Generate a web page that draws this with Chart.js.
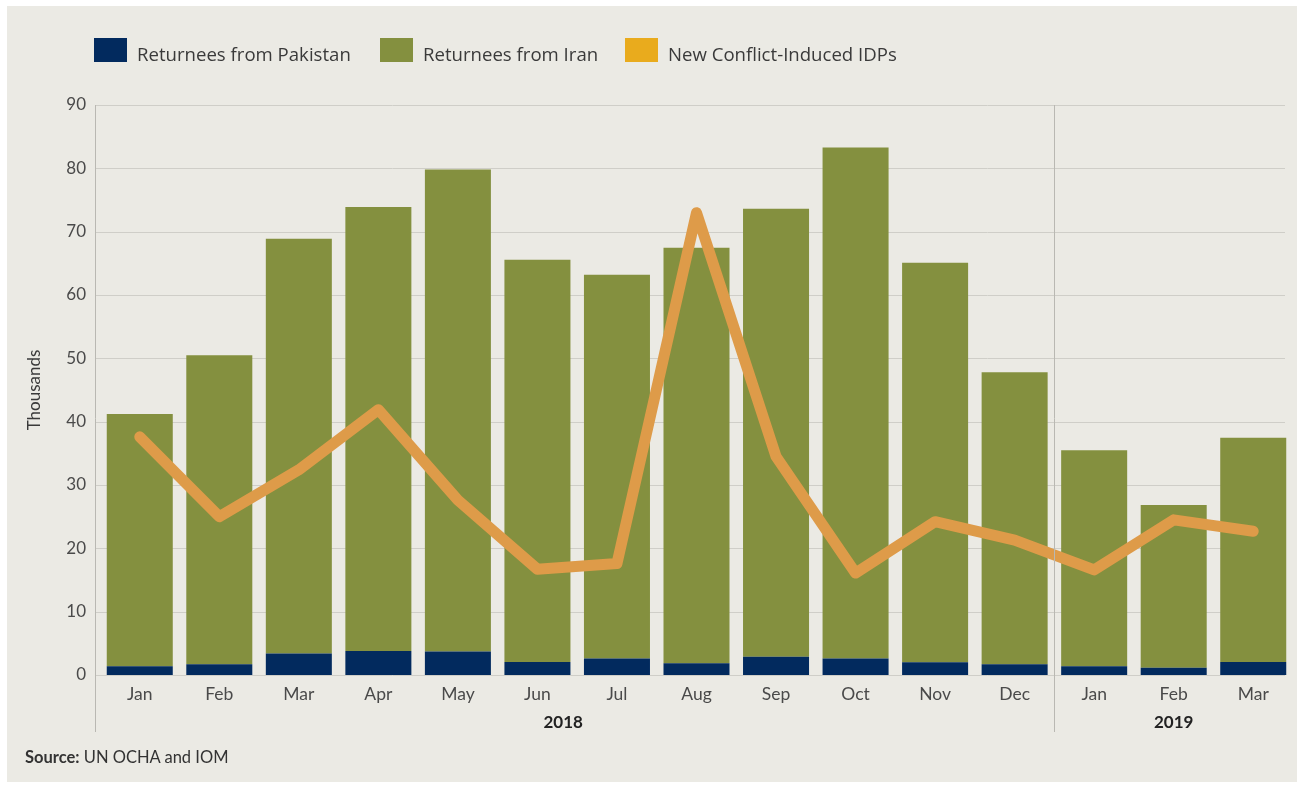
<!DOCTYPE html>
<html>
<head>
<meta charset="utf-8">
<script src="https://cdn.jsdelivr.net/npm/chart.js@4.4.1/dist/chart.umd.min.js"></script>
<style>
  html, body { margin: 0; padding: 0; background: #ffffff; }
  #frame { position: absolute; left: 7px; top: 6px; width: 1290px; height: 776px; background: #ebeae4; }
  #wrap { position: absolute; left: 0; top: 0; width: 1304px; height: 788px; }
  .leg { position: absolute; top: 38px; height: 24px; display: flex; align-items: flex-end; font-family: "Open Sans", sans-serif; font-size: 18.6px; color: #3a3a3a; white-space: nowrap; }
  .leg span.box { display: inline-block; width: 33px; height: 24px; margin-right: 10px; }
  .leg span.txt { line-height: 18px; position: relative; top: 1px; }
  #source { position: absolute; left: 25px; top: 747px; font-family: Lato, sans-serif; font-size: 16.5px; color: #333; }
</style>
</head>
<body>
<div id="frame"></div>
<div id="wrap"><canvas id="chart" width="1304" height="788"></canvas></div>
<div class="leg" style="left:94px"><span class="box" style="background:#022a5e"></span><span class="txt">Returnees from Pakistan</span></div>
<div class="leg" style="left:380px"><span class="box" style="background:#84903f"></span><span class="txt">Returnees from Iran</span></div>
<div class="leg" style="left:625px"><span class="box" style="background:#e9ab1d"></span><span class="txt">New Conflict-Induced IDPs</span></div>
<div id="source"><b>Source:</b> UN OCHA and IOM</div>
<script>
// Afghanistan returnees and IDPs, thousands per month
const months = ['Jan', 'Feb', 'Mar', 'Apr', 'May', 'Jun', 'Jul', 'Aug', 'Sep', 'Oct', 'Nov', 'Dec', 'Jan', 'Feb', 'Mar'];
const years = [
    { label: '2018', from: 0, to: 11 },
    { label: '2019', from: 12, to: 14 }
];
const fromPakistan = [1.4, 1.7, 3.4, 3.8, 3.7, 2.05, 2.6, 1.85, 2.9, 2.6, 2.0, 1.7, 1.4, 1.15, 2.05];
const fromIran = [39.8, 48.8, 65.5, 70.1, 76.1, 63.5, 60.6, 65.6, 70.7, 80.7, 63.1, 46.1, 34.1, 25.7, 35.4];
const newIdps = [37.6, 25.0, 32.4, 41.9, 27.6, 16.7, 17.6, 73.0, 34.5, 16.1, 24.2, 21.3, 16.6, 24.5, 22.7];
const yTicks = [0, 10, 20, 30, 40, 50, 60, 70, 80, 90];

const FONT = 'Lato, sans-serif';

// gridlines, axis line, year separator and year labels
const decorPlugin = {
    id: 'decor',
    beforeDatasetsDraw(chart) {
        const { ctx, chartArea, scales } = chart;
        const left = chartArea.left - 5;
        ctx.save();
        ctx.strokeStyle = '#cfcec8';
        ctx.lineWidth = 1;
        yTicks.forEach(v => {
            const y = Math.round(scales.y.getPixelForValue(v)) + 0.5;
            ctx.beginPath();
            ctx.moveTo(left, y);
            ctx.lineTo(chartArea.right - 8, y);
            ctx.stroke();
        });
        ctx.restore();
    },
    afterDraw(chart) {
        const { ctx, chartArea, scales } = chart;
        const x = scales.x;
        const bottom = chartArea.bottom + 57;
        ctx.save();
        ctx.strokeStyle = '#b9b8b2';
        ctx.lineWidth = 1;
        const lines = [chartArea.left - 5, (x.getPixelForValue(11) + x.getPixelForValue(12)) / 2];
        lines.forEach(px => {
            px = Math.round(px) + 0.5;
            ctx.beginPath();
            ctx.moveTo(px, chartArea.top);
            ctx.lineTo(px, bottom);
            ctx.stroke();
        });
        ctx.fillStyle = '#222';
        ctx.font = 'bold 17px ' + FONT;
        ctx.textAlign = 'center';
        ctx.textBaseline = 'middle';
        years.forEach(yr => {
            let cx;
            if (yr.to - yr.from > 5) cx = (x.getPixelForValue(5) + x.getPixelForValue(6)) / 2 - 14;
            else cx = (x.getPixelForValue(yr.from) + x.getPixelForValue(yr.to)) / 2;
            ctx.fillText(yr.label, cx, chartArea.bottom + 48);
        });
        ctx.restore();
    }
};

new Chart(document.getElementById('chart'), {
    type: 'bar',
    data: {
        labels: months,
        datasets: [
            {
                type: 'line',
                label: 'New Conflict-Induced IDPs',
                data: newIdps,
                borderColor: '#de9b49',
                borderWidth: 11,
                borderJoinStyle: 'round',
                borderCapStyle: 'round',
                pointRadius: 0,
                tension: 0,
                stack: 'idps',
                order: 0
            },
            {
                label: 'Returnees from Pakistan',
                data: fromPakistan,
                backgroundColor: '#022a5e',
                stack: 'returnees',
                order: 1
            },
            {
                label: 'Returnees from Iran',
                data: fromIran,
                backgroundColor: '#84903f',
                stack: 'returnees',
                order: 1
            }
        ]
    },
    options: {
        responsive: false,
        animation: false,
        layout: { padding: { left: 0, right: 11, top: 105, bottom: 0 } },
        datasets: { bar: { barPercentage: 1, categoryPercentage: 0.83 } },
        plugins: {
            legend: { display: false },
            tooltip: { enabled: false }
        },
        scales: {
            x: {
                stacked: true,
                offset: true,
                grid: { display: false, drawTicks: false },
                border: { display: false },
                ticks: { color: '#4a4a4a', font: { family: FONT, size: 17.5 }, padding: 9, maxRotation: 0 },
                afterFit(scale) { scale.height = 113; }
            },
            y: {
                stacked: true,
                min: 0,
                max: 90,
                grid: { display: false, drawTicks: false },
                border: { display: false },
                ticks: { stepSize: 10, color: '#4a4a4a', font: { family: FONT, size: 17 }, padding: 14 },
                title: { display: true, text: 'Thousands', color: '#3a3a3a', font: { family: FONT, size: 17 }, padding: { top: 24, bottom: 0 } },
                afterFit(scale) { scale.width = 100; }
            }
        }
    },
    plugins: [decorPlugin]
});
</script>
</body>
</html>
